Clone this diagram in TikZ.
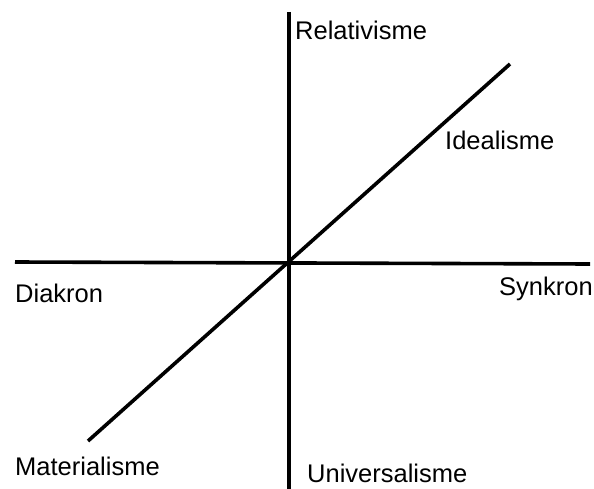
\documentclass[tikz,border=0pt]{standalone}
\usepackage{fontspec}
\setmainfont{Liberation Sans}

\tikzstyle{axis}=[black, line width=3.6pt]
\tikzstyle{pole}=[inner sep=0pt, anchor=base west, font=\fontsize{25.5}{30}\selectfont]

\begin{document}
\begin{tikzpicture}[x=1pt, y=-1pt]
				\useasboundingbox (0,0) rectangle (594,489);

				% End points of the three axes
				\coordinate (rel) at (289, 12);
				\coordinate (uni) at (289,489);
				\coordinate (dia) at ( 15,262);
				\coordinate (syn) at (590,264);
				\coordinate (ide) at (510, 64);
				\coordinate (mat) at ( 88,441);

				% Axes
				\draw[axis] (rel) -- (uni);
				\draw[axis] (dia) -- (syn);
				\draw[axis] (mat) -- (ide);

				% Labels of the poles
				\node[pole] (lrel) at (295, 40) {Relativisme};
				\node[pole] (lide) at (445,150) {Idealisme};
				\node[pole] (ldia) at ( 15,302) {Diakron};
				\node[pole] (lsyn) at (499,295) {Synkron};
				\node[pole] (lmat) at ( 15,475) {Materialisme};
				\node[pole] (luni) at (307,482) {Universalisme};
			\end{tikzpicture}
\end{document}
